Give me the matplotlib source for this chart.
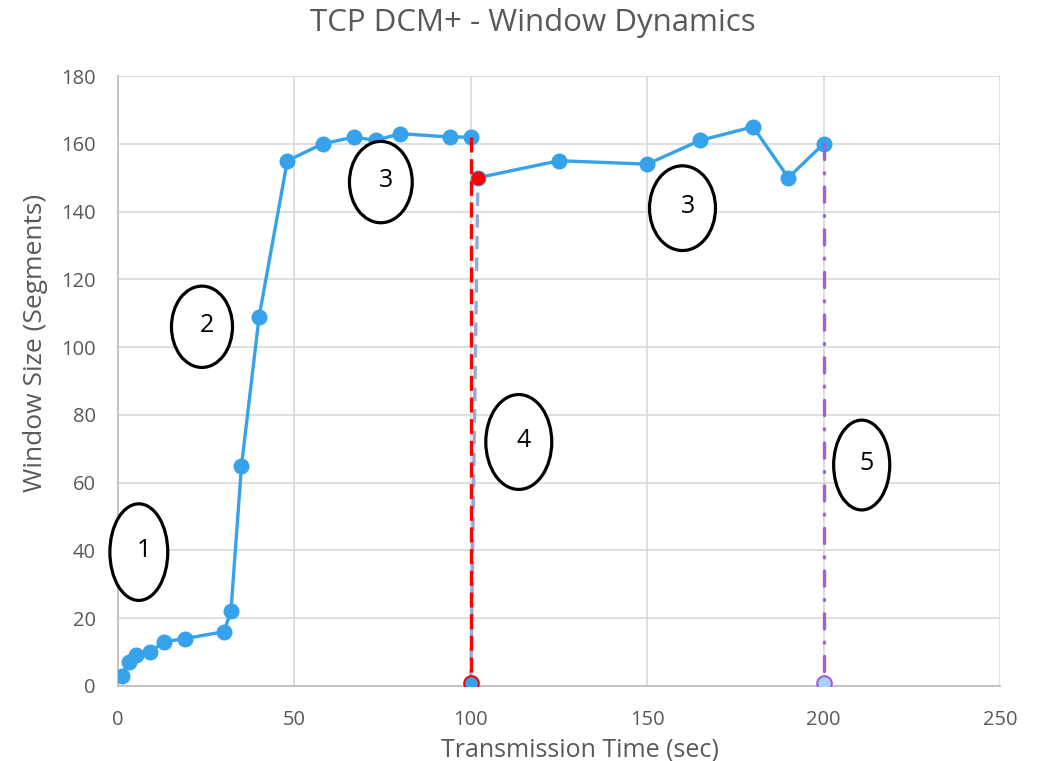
import matplotlib
matplotlib.use("Agg")
import matplotlib.pyplot as plt
from matplotlib.patches import Ellipse

plt.rcParams['font.family'] = ['Open Sans', 'DejaVu Sans']

# Congestion window samples (time in seconds, window in segments)
time_sec = [1, 3, 5, 9, 13, 19, 30, 32, 35, 40, 48, 58, 67, 73, 80, 94, 100,
            100, 102, 125, 150, 165, 180, 190, 200, 200]
window_seg = [3, 7, 9, 10, 13, 14, 16, 22, 65, 109, 155, 160, 162, 161, 163, 162, 162,
              1, 150, 155, 154, 161, 165, 150, 160, 1]

# Phase annotations: label, centre (time, window), ellipse size (time, window)
phase_labels = ['1', '2', '3', '3', '4', '5']
phase_centres = [(5.9, 39.5), (23.8, 106), (74.5, 148.7), (160, 141), (113.6, 72), (210.8, 65.2)]
phase_sizes = [(16.4, 28.5), (17.3, 24), (17.8, 24), (18.7, 25), (18.7, 28), (15.9, 26.5)]

x_ticks = [0, 50, 100, 150, 200, 250]
y_ticks = list(range(0, 181, 20))

BLUE = '#36A2EB'
RED = '#FF0000'
GREY_BLUE = '#8FAADC'
PURPLE = '#A25DDC'
LIGHT_BLUE = '#A9D1FF'
TEXT = '#595959'

fig = plt.figure(figsize=(10.48, 7.61), dpi=100)
ax = fig.add_axes([0.1126, 0.0986, 0.9542 - 0.1126, 0.9001 - 0.0986])

lw = 2.4
ms = 10.5

# Index of the drop points
i_drop1 = 16   # (100,162) -> (100,1)
i_low1 = 17
i_rec = 18
i_drop2 = 24

# Main growth curve up to the first drop
ax.plot(time_sec[:i_drop1 + 1], window_seg[:i_drop1 + 1], color=BLUE, lw=lw,
        marker='o', ms=ms, mfc=BLUE, mec=BLUE, zorder=3, solid_capstyle='round')
# Recovery curve after the drop
ax.plot(time_sec[i_rec:i_drop2 + 1], window_seg[i_rec:i_drop2 + 1], color=BLUE, lw=lw,
        marker='o', ms=ms, mfc=BLUE, mec=BLUE, zorder=3, solid_capstyle='round')

# Restart towards the recovered window
ax.plot(time_sec[i_low1:i_rec + 1], window_seg[i_low1:i_rec + 1], color=GREY_BLUE, lw=lw,
        dashes=(4.0, 2.5), zorder=4)
# Drop to one segment (timeout)
ax.plot(time_sec[i_drop1:i_low1 + 1], window_seg[i_drop1:i_low1 + 1], color=RED, lw=lw,
        dashes=(4.5, 2.0), zorder=4)
# Final drop
ax.plot(time_sec[i_drop2:], window_seg[i_drop2:], color=PURPLE, lw=lw,
        dashes=(4.5, 4.0, 0.3, 4.0), dash_capstyle='round', zorder=4)

# Special markers
ax.plot([time_sec[i_low1]], [window_seg[i_low1]], marker='o', ms=ms, mfc=BLUE, mec=RED,
        mew=1.5, ls='none', zorder=5)
ax.plot([time_sec[i_rec]], [window_seg[i_rec]], marker='o', ms=9, mfc=RED, mec=RED,
        ls='none', zorder=5)
ax.plot([time_sec[-1]], [window_seg[-1]], marker='o', ms=ms, mfc=LIGHT_BLUE, mec=PURPLE,
        mew=1.5, ls='none', zorder=5)

# Phase markers
for lab, (cx, cy), (w, h) in zip(phase_labels, phase_centres, phase_sizes):
    ax.add_patch(Ellipse((cx, cy), w, h, facecolor='white', edgecolor='black',
                         lw=2.3, zorder=6, clip_on=False))
    ax.text(cx + 1.5, cy + 0.5, lab, fontsize=18, color='black', ha='center',
            va='center', zorder=7)

ax.set_xlim(0, 250)
ax.set_ylim(0, 180)
ax.set_xticks(x_ticks)
ax.set_yticks(y_ticks)
ax.grid(True, color='#D9D9D9', lw=1.2)
ax.set_axisbelow(True)
for s in ['top', 'right']:
    ax.spines[s].set_visible(False)
for s in ['left', 'bottom']:
    ax.spines[s].set_color('#BFBFBF')
    ax.spines[s].set_linewidth(1.3)
ax.tick_params(length=0, labelsize=14.5, labelcolor=TEXT)
ax.tick_params(axis='y', pad=16)
ax.tick_params(axis='x', pad=17)

ax.set_xlabel('Transmission Time (sec)', fontsize=18, color=TEXT)
ax.set_ylabel('Window Size (Segments)', fontsize=19, color=TEXT)
ax.xaxis.set_label_coords(0.524, -0.085)
ax.yaxis.set_label_coords(-0.079, 0.562)
fig.text(0.508, 0.970, 'TCP DCM+ - Window Dynamics', fontsize=22.5, color=TEXT,
         ha='center', va='center')

fig.savefig('out.png', dpi=100, facecolor='white')
